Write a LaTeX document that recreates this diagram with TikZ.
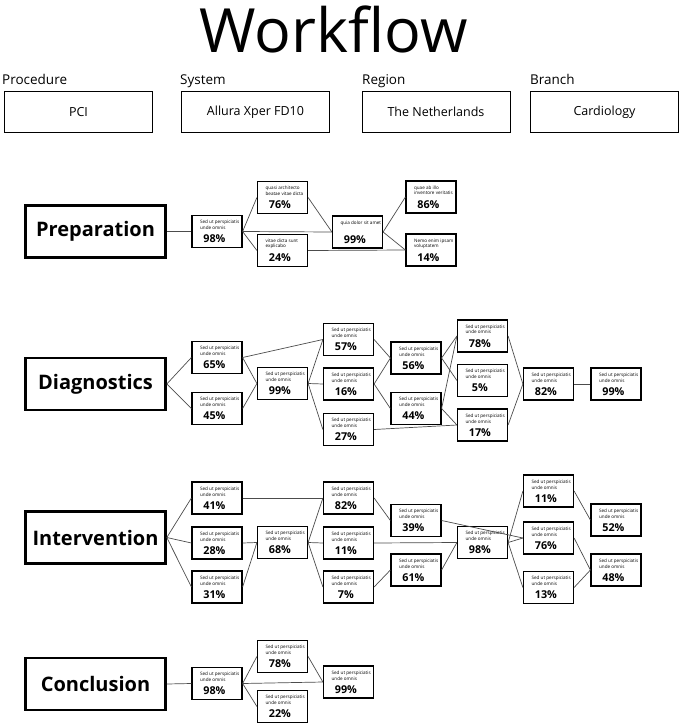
\documentclass[tikz,border=0pt]{standalone}
\usepackage{fontspec}
\setmainfont{Open Sans}
\usetikzlibrary{positioning}

\begin{document}
\begin{tikzpicture}[x=1pt,y=-1pt,
    stage/.style={draw=black,line width=2.6pt,minimum width=140pt,minimum height=52pt,font=\fontsize{20}{24}\selectfont\bfseries},
    field/.style={draw=black,line width=0.9pt,minimum width=148pt,minimum height=41pt,font=\fontsize{12.5}{15}\selectfont},
    caption/.style={anchor=base west,inner sep=0pt,font=\fontsize{13.5}{16}\selectfont},
    sbox/.style={draw=black,line width=1.2pt,minimum width=50pt,minimum height=32pt,inner sep=0pt},
    stxt/.style={anchor=north west,inner sep=0pt,align=left,font=\fontsize{4.6}{4.3}\selectfont,xshift=8.5pt,yshift=-5.3pt},
    pct/.style={anchor=base,inner sep=0pt,font=\fontsize{10.8}{12}\selectfont\bfseries,xshift=23pt,yshift=-28pt},
    link/.style={draw=black!70,line width=0.7pt}]
  \useasboundingbox (0,0) rectangle (685,726);

  % header
  \node[anchor=base,inner sep=0pt,font=\fontsize{61}{70}\selectfont] (title) at (333.5,52) {Workflow};
  \node[caption] (lproc) at (2,84) {Procedure};
  \node[caption] (lsys) at (180,84) {System};
  \node[caption] (lreg) at (362,84) {Region};
  \node[caption] (lbr) at (530,84) {Branch};
  \node[field] (fproc) at (78.5,112) {PCI};
  \node[field] (fsys) at (255.5,112) {Allura Xper FD10};
  \node[field] (freg) at (436,112) {The Netherlands};
  \node[field] (fbr) at (604.5,112) {Cardiology};

  % stages
  \node[stage] (stP) at (95.5,231.5) {Preparation};
  \node[stage] (stD) at (95.5,384) {Diagnostics};
  \node[stage] (stI) at (95.5,537.5) {Intervention};
  \node[stage] (stC) at (95.5,684) {Conclusion};

  % steps
  \foreach \n/\x/\y/\a/\b/\p in {
      pr98/217/231.5/Sed ut perspiciatis/unde omnis/98,
      pr76/282.5/197.5/quasi architecto/beatae vitae dicta/76,
      pr24/282.5/250.5/vitae dicta sunt/explicabo/24,
      pr99/357.5/232/quia dolor sit amet//99,
      pr86/431/197/quae ab illo/inventore veritatis/86,
      pr14/431/250/Nemo enim ipsam/voluptatem/14,
      d65/217/357.5/Sed ut perspiciatis/unde omnis/65,
      d45/217/408.5/Sed ut perspiciatis/unde omnis/45,
      d99/282.5/383.5/Sed ut perspiciatis/unde omnis/99,
      d57/348.5/339.5/Sed ut perspiciatis/unde omnis/57,
      d16/348.5/384/Sed ut perspiciatis/unde omnis/16,
      d27/348.5/429.5/Sed ut perspiciatis/unde omnis/27,
      d56/416/358/Sed ut perspiciatis/unde omnis/56,
      d44/416/408.5/Sed ut perspiciatis/unde omnis/44,
      d78/482.5/336/Sed ut perspiciatis/unde omnis/78,
      d5/482.5/380.5/Sed ut perspiciatis/unde omnis/5,
      d17/482.5/425/Sed ut perspiciatis/unde omnis/17,
      d82/548.5/384/Sed ut perspiciatis/unde omnis/82,
      d99b/616/384/Sed ut perspiciatis/unde omnis/99,
      i41/217/498/Sed ut perspiciatis/unde omnis/41,
      i28/217/543/Sed ut perspiciatis/unde omnis/28,
      i31/217/587/Sed ut perspiciatis/unde omnis/31,
      i68/282.5/542.5/Sed ut perspiciatis/unde omnis/68,
      i82/348.5/498/Sed ut perspiciatis/unde omnis/82,
      i11/348.5/543/Sed ut perspiciatis/unde omnis/11,
      i7/348.5/587/Sed ut perspiciatis/unde omnis/7,
      i39/416/520.5/Sed ut perspiciatis/unde omnis/39,
      i61/416/570/Sed ut perspiciatis/unde omnis/61,
      i98/482.5/542.5/Sed ut perspiciatis/unde omnis/98,
      i11b/548.5/491/Sed ut perspiciatis/unde omnis/11,
      i76/548.5/538/Sed ut perspiciatis/unde omnis/76,
      i13/548.5/587.5/Sed ut perspiciatis/unde omnis/13,
      i52/616/520/Sed ut perspiciatis/unde omnis/52,
      i48/616/570/Sed ut perspiciatis/unde omnis/48,
      c98/217/683.5/Sed ut perspiciatis/unde omnis/98,
      c78/282.5/656.5/Sed ut perspiciatis/unde omnis/78,
      c22/282.5/706.5/Sed ut perspiciatis/unde omnis/22,
      c99/348.5/682/Sed ut perspiciatis/unde omnis/99} {
    \node[sbox] (\n) at (\x,\y) {};
    \node[stxt] at (\n.north west) {\a\\\b};
    \node[pct] at (\n.north west) {\p\%};
  }

  % links
  \foreach \s/\t in {stP/pr98, pr98/pr76, pr98/pr24, pr98/pr99, pr76/pr99, pr24/pr14, pr99/pr86, pr99/pr14,
      stD/d65, stD/d45, d65/d57, d65/d99, d45/d99, d99/d57, d99/d16, d99/d27, d57/d56, d16/d56, d16/d44,
      d27/d17, d56/d78, d56/d5, d44/d78, d44/d17, d78/d82, d17/d82, d82/d99b,
      stI/i41, stI/i28, stI/i31, i41/i82, i28/i68, i31/i68, i68/i82, i68/i11, i68/i7, i82/i39, i11/i98,
      i7/i61, i39/i76, i61/i98, i98/i11b, i98/i76, i98/i13, i11b/i52, i76/i48, i13/i48,
      stC/c98, c98/c78, c98/c22, c98/c99, c78/c99}
    \draw[link] (\s.east) -- (\t.west);
\end{tikzpicture}
\end{document}
